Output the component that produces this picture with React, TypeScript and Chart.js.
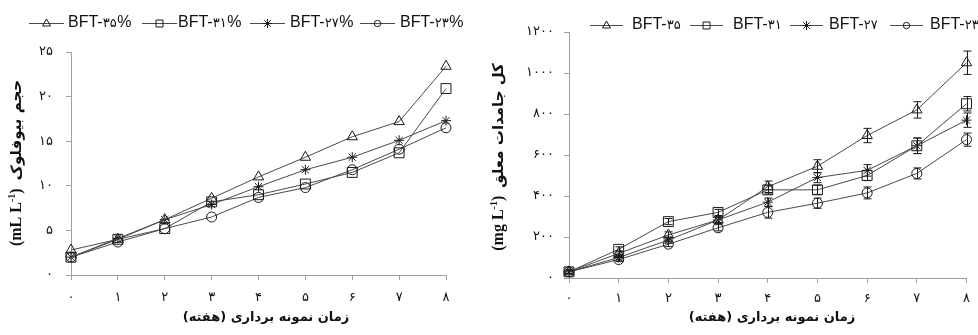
import React, { useEffect, useRef } from 'react';
import { Chart, registerables } from 'chart.js';

Chart.register(...registerables);

// ---------- data ----------
const weeks = [0, 1, 2, 3, 4, 5, 6, 7, 8];
const faDigits = '۰۱۲۳۴۵۶۷۸۹';
const toFa = (v: number | string) => String(v).replace(/\d/g, (d) => faDigits[+d]);
const weekLabels = weeks.map(toFa);

const seriesCodes = ['۳۵', '۳۱', '۲۷', '۲۳'];
const markerStyles = ['triangle', 'rect', 'star', 'circle'];

// Biofloc volume (mL/L)
const vol35 = [2.8, 4.0, 6.2, 8.6, 11.0, 13.2, 15.5, 17.2, 23.4];
const vol31 = [2.0, 4.0, 5.2, 8.2, 9.0, 10.2, 11.5, 13.7, 20.9];
const vol27 = [2.0, 4.1, 6.2, 7.9, 9.9, 11.8, 13.2, 15.1, 17.3];
const vol23 = [2.0, 3.7, 5.2, 6.5, 8.7, 9.8, 11.8, 14.1, 16.5];
const volumeSeries = [vol35, vol31, vol27, vol23];
const volTickMin = 0, volTickMax = 25, volTickStep = 5;

// Total suspended solids (mg/L)
const tss35 = [30, 120, 210, 283, 445, 545, 695, 820, 1050];
const tss31 = [30, 140, 275, 320, 430, 430, 500, 645, 850];
const tss27 = [30, 100, 185, 283, 370, 490, 525, 645, 770];
const tss23 = [30, 90, 165, 245, 320, 365, 415, 510, 675];
const tssSeries = [tss35, tss31, tss27, tss23];
const tssErr35 = [8, 12, 15, 15, 28, 32, 35, 40, 57];
const tssErr31 = [8, 12, 15, 15, 20, 22, 25, 38, 35];
const tssErr27 = [8, 12, 15, 15, 20, 25, 28, 38, 35];
const tssErr23 = [8, 10, 12, 15, 28, 25, 29, 27, 32];
const tssErrors = [tssErr35, tssErr31, tssErr27, tssErr23];
const tssTickMin = 0, tssTickMax = 1200, tssTickStep = 200;

const xTitleText = 'زمان نمونه برداری (هفته)';
const volTitleFa = 'حجم بیوفلوک';
const volTitleUnit = 'mL';
const tssTitleFa = 'کل جامدات معلق';
const tssTitleUnit = 'mg';

// ---------- styles ----------
const W = 489, H = 335;
const LINE = '#4a4a4a';
const MARK = '#1a1a1a';
const AXIS = '#a0a0a0';
const TEXT = '#111';

function drawMarker(ctx: CanvasRenderingContext2D, style: string, x: number, y: number) {
  ctx.beginPath();
  if (style === 'triangle') {
    ctx.moveTo(x, y - 4.5);
    ctx.lineTo(x + 4, y + 2.5);
    ctx.lineTo(x - 4, y + 2.5);
    ctx.closePath();
  } else if (style === 'rect') {
    ctx.rect(x - 3.5, y - 3.5, 7, 7);
  } else if (style === 'circle') {
    ctx.arc(x, y, 3.2, 0, Math.PI * 2);
  } else {
    ctx.moveTo(x - 4.5, y); ctx.lineTo(x + 4.5, y);
    ctx.moveTo(x, y - 4.5); ctx.lineTo(x, y + 4.5);
    ctx.moveTo(x - 3.3, y - 3.3); ctx.lineTo(x + 3.3, y + 3.3);
    ctx.moveTo(x - 3.3, y + 3.3); ctx.lineTo(x + 3.3, y - 3.3);
  }
  ctx.stroke();
}

type Deco = {
  legendY: number;
  lineStarts: number[];
  lineLen: number;
  textStarts: number[];
  suffix: string;
  xTitleX: number;
  xTitleY: number;
  yTitleX: number;
  yTitleY: number;
  unit: string;
  titleFa: string;
};

function makeDeco(d: Deco) {
  return {
    id: 'deco',
    afterDraw(chart: any) {
      const ctx: CanvasRenderingContext2D = chart.ctx;
      ctx.save();
      // legend
      ctx.lineWidth = 1;
      seriesCodes.forEach((code, i) => {
        const x0 = d.lineStarts[i];
        const y = d.legendY;
        ctx.strokeStyle = LINE;
        ctx.beginPath();
        ctx.moveTo(x0, y + 0.5);
        ctx.lineTo(x0 + d.lineLen, y + 0.5);
        ctx.stroke();
        ctx.strokeStyle = MARK;
        drawMarker(ctx, markerStyles[i], x0 + d.lineLen / 2, y + 0.5);
        ctx.fillStyle = TEXT;
        ctx.textBaseline = 'middle';
        ctx.textAlign = 'left';
        let tx = d.textStarts[i];
        ctx.font = '16px "Liberation Sans", Arial, sans-serif';
        ctx.fillText('BFT-', tx, y);
        tx += ctx.measureText('BFT-').width;
        ctx.font = '13px "DejaVu Sans"';
        ctx.fillText(code, tx, y + 1);
        tx += ctx.measureText(code).width + 0.5;
        if (d.suffix) {
          ctx.font = '16px "Liberation Sans", Arial, sans-serif';
          ctx.fillText(d.suffix, tx, y);
        }
      });
      // x title
      ctx.font = 'bold 13px "DejaVu Sans"';
      ctx.fillStyle = TEXT;
      ctx.textAlign = 'center';
      ctx.textBaseline = 'middle';
      (ctx as any).direction = 'rtl';
      ctx.fillText(xTitleText, d.xTitleX, d.xTitleY);
      (ctx as any).direction = 'ltr';
      // y title (rotated)
      ctx.translate(d.yTitleX, d.yTitleY);
      ctx.rotate(-Math.PI / 2);
      ctx.textAlign = 'left';
      const serif = 'bold 16px "Liberation Serif", serif';
      const sup = 'bold 10px "Liberation Serif", serif';
      const fa = 'bold 15px "DejaVu Sans"';
      const pieces = [
        { t: '(' + d.unit + ' L', f: serif, dy: 0 },
        { t: '-1', f: sup, dy: -5 },
        { t: ')', f: serif, dy: 0 },
        { t: '  ', f: serif, dy: 0 },
        { t: d.titleFa, f: fa, dy: 0 },
      ];
      let total = 0;
      const widths = pieces.map((p) => {
        ctx.font = p.f;
        const w = ctx.measureText(p.t).width;
        total += w;
        return w;
      });
      let px = -total / 2;
      pieces.forEach((p, i) => {
        ctx.font = p.f;
        ctx.fillText(p.t, px, p.dy);
        px += widths[i];
      });
      ctx.restore();
    },
  };
}

const errorBarsPlugin = {
  id: 'errorBars',
  afterDatasetsDraw(chart: any) {
    const ctx: CanvasRenderingContext2D = chart.ctx;
    const ys = chart.scales.y;
    ctx.save();
    ctx.strokeStyle = MARK;
    ctx.lineWidth = 1;
    chart.data.datasets.forEach((ds: any, i: number) => {
      const meta = chart.getDatasetMeta(i);
      const errs = tssErrors[i];
      meta.data.forEach((pt: any, j: number) => {
        const v = ds.data[j];
        const e = errs[j];
        const x = Math.round(pt.x) + 0.5;
        const y1 = ys.getPixelForValue(v + e);
        const y2 = ys.getPixelForValue(v - e);
        ctx.beginPath();
        ctx.moveTo(x, y1); ctx.lineTo(x, y2);
        ctx.moveTo(x - 4, y1); ctx.lineTo(x + 4, y1);
        ctx.moveTo(x - 4, y2); ctx.lineTo(x + 4, y2);
        ctx.stroke();
      });
    });
    ctx.restore();
  },
};

function buildConfig(kind: 'vol' | 'tss'): any {
  const isVol = kind === 'vol';
  const series = isVol ? volumeSeries : tssSeries;
  const radii = [6, 7, 5, 5];
  const datasets = series.map((data, i) => ({
    label: 'BFT-' + seriesCodes[i] + (isVol ? '%' : ''),
    data,
    borderColor: LINE,
    borderWidth: 1,
    pointStyle: markerStyles[i],
    pointRadius: radii[i],
    pointBorderColor: MARK,
    pointBorderWidth: 1,
    pointBackgroundColor: 'rgba(0,0,0,0)',
    fill: false,
    tension: 0,
    clip: false,
  }));
  const deco: Deco = isVol
    ? {
        legendY: 23, lineStarts: [29, 142, 250, 360], lineLen: 35, textStarts: [68, 178, 290, 400], suffix: '%',
        xTitleX: 266, xTitleY: 318, yTitleX: 17, yTitleY: 163, unit: volTitleUnit, titleFa: volTitleFa,
      }
    : {
        legendY: 25, lineStarts: [101, 201, 301, 401], lineLen: 33, textStarts: [143, 244, 340, 441], suffix: '',
        xTitleX: 283, xTitleY: 318, yTitleX: 10, yTitleY: 157, unit: tssTitleUnit, titleFa: tssTitleFa,
      };
  const tickFont = { family: '"DejaVu Sans"', size: 13 };
  return {
    type: 'line',
    data: { labels: weekLabels, datasets },
    options: {
      animation: false,
      responsive: false,
      devicePixelRatio: 1,
      layout: {
        padding: isVol
          ? { left: 0, right: 43, top: 52, bottom: 25 }
          : { left: 0, right: 4, top: 32, bottom: 22 },
      },
      plugins: { legend: { display: false }, title: { display: false }, tooltip: { enabled: false } },
      scales: {
        x: {
          type: 'category',
          offset: false,
          grid: { drawOnChartArea: false, drawTicks: true, tickLength: 5, color: AXIS, offset: false },
          border: { display: true, color: AXIS },
          ticks: { font: tickFont, color: TEXT, padding: isVol ? 10 : 8, maxRotation: 0, autoSkip: false },
          afterFit: (s: any) => { s.height = 35; },
        },
        y: {
          type: 'linear',
          min: isVol ? volTickMin : tssTickMin,
          max: isVol ? volTickMax : tssTickMax,
          grid: { drawOnChartArea: false, drawTicks: true, tickLength: 5, color: AXIS },
          border: { display: true, color: AXIS },
          ticks: {
            stepSize: isVol ? volTickStep : tssTickStep,
            font: tickFont,
            color: TEXT,
            padding: isVol ? 13 : 10,
            callback: (v: number) => toFa(v),
          },
          afterFit: (s: any) => { s.width = isVol ? 71 : 80; },
        },
      },
    },
    plugins: isVol ? [makeDeco(deco)] : [errorBarsPlugin, makeDeco(deco)],
  };
}

function ChartCanvas({ kind, left }: { kind: 'vol' | 'tss'; left: number }) {
  const ref = useRef<HTMLCanvasElement | null>(null);
  useEffect(() => {
    if (!ref.current) return;
    const chart = new Chart(ref.current, buildConfig(kind));
    return () => chart.destroy();
  }, [kind]);
  return (
    <canvas
      ref={ref}
      width={W}
      height={H}
      style={{ position: 'absolute', left, top: 0, width: W, height: H }}
    />
  );
}

export default function App() {
  return (
    <div style={{ position: 'fixed', left: 0, top: 0, width: 978, height: 335, background: '#fff', overflow: 'hidden' }}>
      <ChartCanvas kind="vol" left={0} />
      <ChartCanvas kind="tss" left={489} />
    </div>
  );
}
